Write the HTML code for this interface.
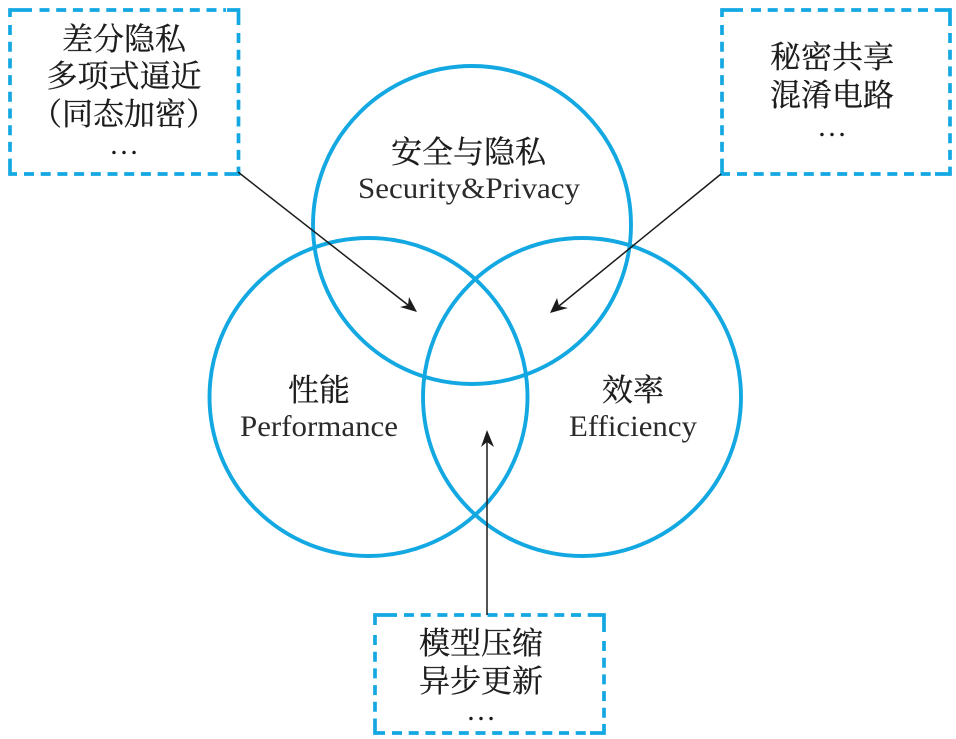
<!DOCTYPE html>
<html><head><meta charset="utf-8">
<style>html,body{margin:0;padding:0;background:#fff;width:956px;height:739px;overflow:hidden}
svg{display:block}
.cn{font-family:"Noto Serif CJK SC","Liberation Serif",serif;font-size:31px;fill:#1c1c1c;stroke:#1c1c1c;stroke-width:.3;text-anchor:middle}
.en{font-family:"Liberation Serif",serif;font-size:30px;fill:#2a2a2a;text-anchor:middle}
.dots{font-family:"Liberation Serif",serif;font-size:30px;fill:#1c1c1c;text-anchor:middle}
</style></head><body>
<svg width="956" height="739" viewBox="0 0 956 739" xmlns="http://www.w3.org/2000/svg">
<g fill="none" stroke="#14a8e2" stroke-width="3.9">
<circle cx="472" cy="225" r="159"/>
<circle cx="368.500" cy="397" r="159"/>
<circle cx="582" cy="397" r="159"/>
<g stroke-width="3.7" stroke-dasharray="10 6.7">
<path d="M39.500 10H226"/><path d="M10 25V159"/><path d="M238.500 33V174"/><path d="M24 174H226"/>
<path d="M751 10H935"/><path d="M722 25V160"/><path d="M950 33V168"/><path d="M737 174H935"/>
<path d="M404 615H590"/><path d="M375 635V720"/><path d="M604 641V724"/><path d="M392 733H590"/>
</g>
<g stroke-width="3.7">
<path d="M10 17V10H32"/><path d="M227 10H238.500V25"/><path d="M10 159V174H17"/><path d="M226 174H238.500V170"/>
<path d="M722 17V10H743"/><path d="M935 10H950V26"/><path d="M722 160V174H730"/><path d="M935 174H950V168"/>
<path d="M375 625V615H397"/><path d="M590 615H604V632"/><path d="M375 720V733H385"/><path d="M590 733H604V724"/>
</g></g>
<g stroke="#1c1c1c" stroke-width="1.5" fill="none">
<path d="M238 172L408 305"/>
<path d="M721 174L559 306"/>
<path d="M487 615V441"/>
</g>
<g fill="#1c1c1c">
<polygon points="417,312 400,307 408,305 409,297"/>
<polygon points="550,313 557,298 559,306 568,308"/>
<polygon points="487,430 494,447 487,442 481,447"/>
</g>
<text class="cn" x="124" y="50">差分隐私</text>
<text class="cn" x="124" y="87">多项式逼近</text>
<text class="cn" x="124" y="125">（同态加密）</text>
<text class="dots" x="124" y="154">…</text>
<text class="cn" x="832" y="68">秘密共享</text>
<text class="cn" x="832" y="106">混淆电路</text>
<text class="dots" x="832" y="136">…</text>
<text class="cn" x="468.5" y="163">安全与隐私</text>
<text class="en" x="469" y="198" textLength="222" lengthAdjust="spacingAndGlyphs">Security&amp;Privacy</text>
<text class="cn" x="319" y="401">性能</text>
<text class="en" x="319" y="436" textLength="158" lengthAdjust="spacingAndGlyphs">Performance</text>
<text class="cn" x="633" y="401">效率</text>
<text class="en" x="633" y="436" textLength="128" lengthAdjust="spacingAndGlyphs">Efficiency</text>
<text class="cn" x="481" y="654">模型压缩</text>
<text class="cn" x="481" y="692">异步更新</text>
<text class="dots" x="481" y="720">…</text>
</svg>
</body></html>
